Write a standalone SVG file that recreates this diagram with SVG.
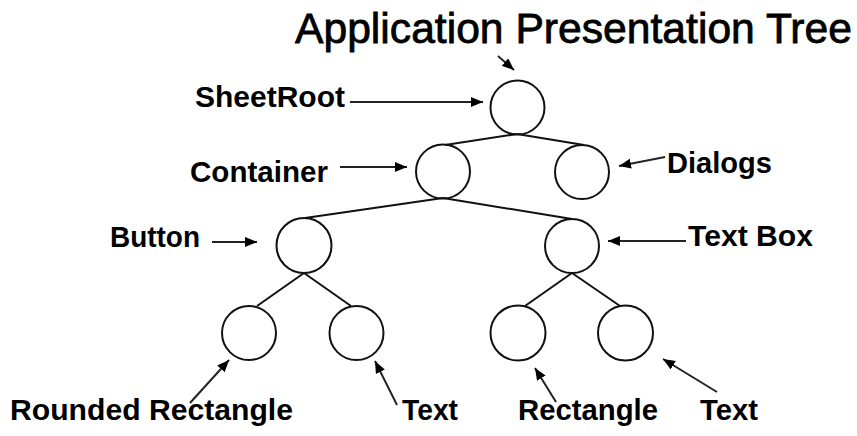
<svg xmlns="http://www.w3.org/2000/svg" width="857" height="436" viewBox="0 0 857 436">
<style>
.node{fill:none;stroke:#111;stroke-width:2}
.edge{fill:none;stroke:#111;stroke-width:2}
.ptr{fill:none;stroke:#222;stroke-width:2;marker-end:url(#ah)}
.lbl{font-family:"Liberation Sans",Arial,sans-serif;font-weight:bold;font-size:29.5px;fill:#000}
.title{font-family:"Liberation Sans",Arial,sans-serif;font-size:42.5px;fill:#000;stroke:#000;stroke-width:0.8}
</style>
<defs>
<marker id="ah" markerUnits="userSpaceOnUse" markerWidth="14" markerHeight="12" refX="12" refY="5" orient="auto">
<path d="M0,0 L12,5 L0,10 Z" fill="#000"/>
</marker>
</defs>
<rect width="857" height="436" fill="#fff"/>
<g id="title"><text class="title" x="295" y="43" textLength="557" lengthAdjust="spacingAndGlyphs">Application Presentation Tree</text></g>
<g id="connectors">
<line class="edge" x1="517" y1="134" x2="445" y2="145"/>
<line class="edge" x1="517" y1="134" x2="584" y2="145"/>
<line class="edge" x1="443" y1="198" x2="305" y2="218"/>
<line class="edge" x1="443" y1="198" x2="572" y2="219"/>
<line class="edge" x1="304" y1="273" x2="257" y2="306"/>
<line class="edge" x1="304" y1="273" x2="351" y2="306"/>
<line class="edge" x1="572" y1="273" x2="525" y2="306"/>
<line class="edge" x1="572" y1="273" x2="620" y2="306"/>
<line class="ptr" x1="498" y1="56" x2="514" y2="70"/>
<line class="ptr" x1="350" y1="102" x2="483" y2="102"/>
<line class="ptr" x1="340" y1="167" x2="407" y2="167"/>
<line class="ptr" x1="665" y1="157" x2="619" y2="166"/>
<line class="ptr" x1="212" y1="242" x2="257" y2="242"/>
<line class="ptr" x1="686" y1="241" x2="608" y2="241"/>
<line class="ptr" x1="190" y1="403" x2="229" y2="360"/>
<line class="ptr" x1="397" y1="405" x2="375" y2="361"/>
<line class="ptr" x1="556" y1="402" x2="535" y2="368"/>
<line class="ptr" x1="717" y1="392" x2="663" y2="359"/>
</g>
<g id="sheetroot"><circle class="node" cx="517.5" cy="107.5" r="27"/></g>
<g id="container"><circle class="node" cx="443" cy="171.5" r="27"/></g>
<g id="dialogs"><circle class="node" cx="582" cy="172" r="27"/></g>
<g id="button"><circle class="node" cx="304" cy="245.5" r="27.5"/></g>
<g id="textbox"><circle class="node" cx="572" cy="246" r="27"/></g>
<g id="roundedrect"><circle class="node" cx="249" cy="333" r="27"/></g>
<g id="text1"><circle class="node" cx="356.5" cy="333" r="27"/></g>
<g id="rectangle"><circle class="node" cx="518" cy="333" r="27.5"/></g>
<g id="text2"><circle class="node" cx="625.5" cy="333" r="27.5"/></g>
<g id="labels">
<text class="lbl" x="195" y="107" textLength="150" lengthAdjust="spacingAndGlyphs">SheetRoot</text>
<text class="lbl" x="190" y="182" textLength="138" lengthAdjust="spacingAndGlyphs">Container</text>
<text class="lbl" x="667" y="173" textLength="105" lengthAdjust="spacingAndGlyphs">Dialogs</text>
<text class="lbl" x="110" y="247" textLength="90" lengthAdjust="spacingAndGlyphs">Button</text>
<text class="lbl" x="688" y="246" textLength="125" lengthAdjust="spacingAndGlyphs">Text Box</text>
<text class="lbl" x="10" y="420" textLength="283" lengthAdjust="spacingAndGlyphs">Rounded Rectangle</text>
<text class="lbl" x="402" y="420" textLength="56" lengthAdjust="spacingAndGlyphs">Text</text>
<text class="lbl" x="518" y="420" textLength="140" lengthAdjust="spacingAndGlyphs">Rectangle</text>
<text class="lbl" x="700" y="420" textLength="58" lengthAdjust="spacingAndGlyphs">Text</text>
</g>
</svg>
